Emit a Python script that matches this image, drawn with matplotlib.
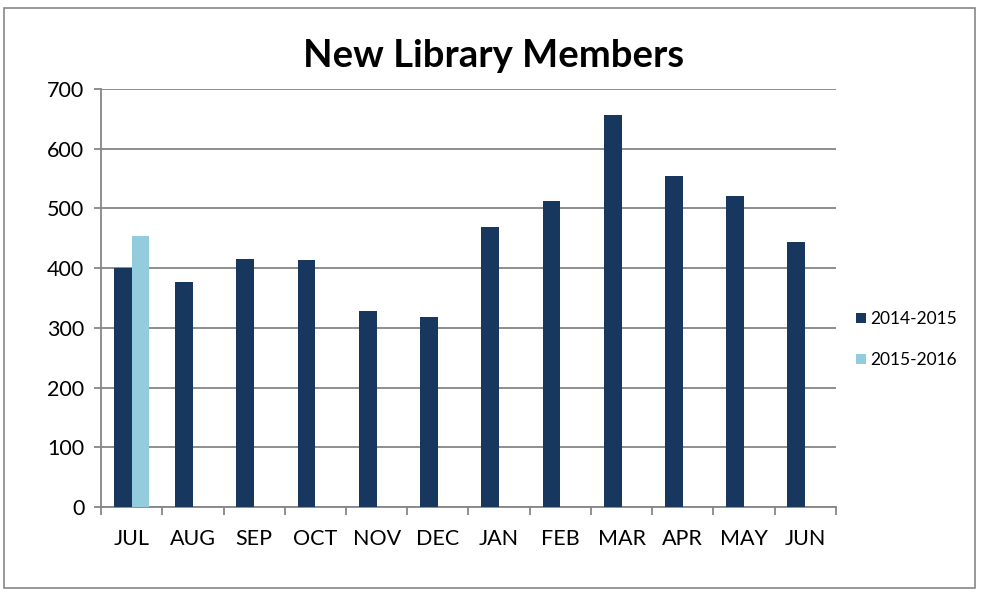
import numpy as np
import matplotlib
matplotlib.use("Agg")
import matplotlib.pyplot as plt
from matplotlib.patches import Rectangle

months = ["JUL", "AUG", "SEP", "OCT", "NOV", "DEC", "JAN", "FEB", "MAR", "APR", "MAY", "JUN"]
members_2014 = [401, 377, 416, 413, 329, 319, 469, 513, 656, 555, 521, 444]
members_2015 = [454, np.nan, np.nan, np.nan, np.nan, np.nan, np.nan, np.nan, np.nan, np.nan, np.nan, np.nan]
series_labels = ["2014-2015", "2015-2016"]

plt.rcParams["font.family"] = ["Lato", "DejaVu Sans"]

fig = plt.figure(figsize=(9.81, 5.92), dpi=100)
ax = fig.add_axes([0.103, 0.1436, 0.749, 0.706])

x = np.arange(len(months))
w = 0.29
ax.bar(x - w / 2, members_2014, w, color="#17375E", label=series_labels[0], zorder=3)
ax.bar(x + w / 2, members_2015, w, color="#93CDDD", label=series_labels[1], zorder=3)

ax.set_xlim(-0.5, len(months) - 0.5)
ax.set_ylim(0, 700)
ax.set_yticks(range(0, 701, 100))
ax.tick_params(axis="y", labelsize=15.5, length=5, color="#868686", width=1.3, pad=7)
ax.yaxis.grid(True, color="#868686", linewidth=1.3, zorder=0)

ax.set_xticks(x)
ax.set_xticklabels(months)
ax.set_xticks(np.arange(-0.5, len(months)), minor=True)
ax.tick_params(axis="x", which="major", length=0, labelsize=15.5, pad=16)
ax.tick_params(axis="x", which="minor", length=6, color="#868686", width=1.3)

for side in ["top", "right"]:
    ax.spines[side].set_visible(False)
for side in ["left", "bottom"]:
    ax.spines[side].set_color("#868686")
    ax.spines[side].set_linewidth(1.3)

fig.text(0.5036, 0.905, "New Library Members", ha="center", va="center",
         fontsize=27.5, fontweight="bold")

leg = fig.legend(loc="center left", bbox_to_anchor=(0.857, 0.426), frameon=False,
                 fontsize=12.5, handlelength=0.55, handleheight=0.55, handletextpad=0.25,
                 labelspacing=1.45)

fig.patches.append(Rectangle((0.004, 0.007), 0.99, 0.98, transform=fig.transFigure,
                             fill=False, edgecolor="#868686", linewidth=1.2))

plt.savefig("out.png", dpi=100)
